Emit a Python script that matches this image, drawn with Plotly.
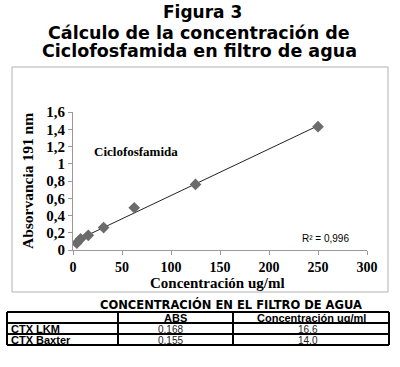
import numpy as np
import plotly.graph_objects as go

# Data
conc = [3.9, 7.8, 15.6, 31.25, 62.5, 125, 250]
absorb = [0.08, 0.13, 0.17, 0.26, 0.49, 0.76, 1.43]
y_ticks = [0, 0.2, 0.4, 0.6, 0.8, 1.0, 1.2, 1.4, 1.6]
y_ticktext = ["0", "0,2", "0,4", "0,6", "0,8", "1", "1,2", "1,4", "1,6"]
x_ticks = [0, 50, 100, 150, 200, 250, 300]
x_ticktext = ["0", "50", "100", "150", "200", "250", "300"]
r2_text = "R² = 0,996"

table_title = "CONCENTRACIÓN EN EL FILTRO DE AGUA"
table_header = ["", "ABS", "Concentración ug/ml"]
table_names = ["CTX LKM", "CTX Baxter"]
table_abs = ["0,168", "0,155"]
table_conc = ["16,6", "14,0"]

W, H = 400, 367
def px(x):
    return x / W
def py(y):
    return 1 - y / H

m, b = np.polyfit(conc, absorb, 1)
fit_x = [min(conc), max(conc)]
fit_y = [m * v + b for v in fit_x]

fig = go.Figure()
fig.add_trace(go.Scatter(x=fit_x, y=fit_y, mode="lines",
                         line=dict(color="#222222", width=1), showlegend=False))
fig.add_trace(go.Scatter(x=conc, y=absorb, mode="markers",
                         marker=dict(symbol="diamond", size=9, color="#6b6b6b"),
                         showlegend=False))

serif = "Liberation Serif"
sans_wide = "DejaVu Sans"
sans = "Liberation Sans"

shapes = [dict(type="rect", xref="paper", yref="paper",
               x0=px(12), x1=px(388), y0=py(292), y1=py(67),
               line=dict(color="#b0b0b0", width=1))]
annotations = []

def ann(text, x, y, size, family, xanchor="center", textangle=0, color="black"):
    annotations.append(dict(text=text, x=px(x), y=py(y), xref="paper", yref="paper",
                            xanchor=xanchor, yanchor="middle", showarrow=False,
                            textangle=textangle,
                            font=dict(family=family, size=size, color=color)))

# titles
ann("<b>Figura 3</b>", 202, 12, 17, sans_wide)
ann("<b>Cálculo de la concentración de</b>", 199, 33, 17.5, sans_wide)
ann("<b>Ciclofosfamida en filtro de agua</b>", 199, 51, 17.5, sans_wide)
ann("<b>Ciclofosfamida</b>", 92, 151, 13, serif, xanchor="left")
ann(r2_text, 300, 239, 10, sans, xanchor="left")
ann("<b>Concentración ug/ml</b>", 217, 283, 15, serif)
ann("<b>Absorvancia 191 nm</b>", 27, 181, 15.5, serif, textangle=-90)

# table drawn from arrays
col_x = [7, 118, 233, 389]
row_y = [312, 323, 334, 345]
for yy in row_y:
    shapes.append(dict(type="line", xref="paper", yref="paper",
                       x0=px(col_x[0]), x1=px(col_x[-1]), y0=py(yy), y1=py(yy),
                       line=dict(color="black", width=2)))
for xx in col_x:
    shapes.append(dict(type="line", xref="paper", yref="paper",
                       x0=px(xx), x1=px(xx), y0=py(row_y[0]), y1=py(row_y[-1]),
                       line=dict(color="black", width=2)))
ann("<b>%s</b>" % table_title, 231, 304, 11.5, sans_wide)
for j, h in enumerate(table_header):
    if h:
        ann("<b>%s</b>" % h, (col_x[j] + col_x[j + 1]) / 2, (row_y[0] + row_y[1]) / 2 + 0.5, 11, sans)
for i in range(len(table_names)):
    yc = (row_y[i + 1] + row_y[i + 2]) / 2 + 0.5
    ann("<b>%s</b>" % table_names[i], col_x[0] + 2, yc, 11, sans, xanchor="left")
    ann(table_abs[i], (col_x[1] + col_x[2]) / 2 - 5, yc, 10, sans, color="#222222")
    ann(table_conc[i], (col_x[2] + col_x[3]) / 2 - 3, yc, 10, sans, color="#222222")

fig.update_layout(
    width=W, height=H,
    margin=dict(l=0, r=0, t=0, b=0, autoexpand=False),
    paper_bgcolor="white", plot_bgcolor="white",
    hovermode=False,
    xaxis=dict(domain=[px(73), px(367)], range=[0, 300], tickvals=x_ticks,
               ticktext=["<b>%s</b>" % t for t in x_ticktext], automargin=False,
               showline=True, linecolor="#999999", linewidth=1, ticks="outside",
               ticklen=4, tickcolor="#999999", showgrid=False, zeroline=False,
               tickfont=dict(family=serif, size=14, color="black")),
    yaxis=dict(domain=[py(250), py(112)], range=[0, 1.6], tickvals=y_ticks,
               ticktext=["<b>%s</b>" % t for t in y_ticktext], automargin=False,
               showline=True, linecolor="#999999", linewidth=1, ticks="outside",
               ticklen=4, tickcolor="#999999", showgrid=False, zeroline=False,
               tickfont=dict(family=serif, size=15, color="black")),
    shapes=shapes,
    annotations=annotations,
)

fig.write_html("out.html", config={"displayModeBar": False},
               post_script="document.body.style.margin='0px';")
